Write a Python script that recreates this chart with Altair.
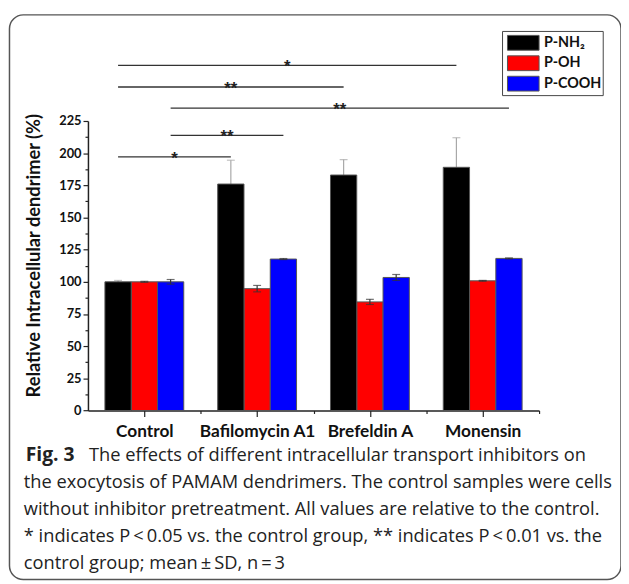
import altair as alt
import pandas as pd

# ---------------- data ----------------
categories = ["Control", "Bafilomycin A1", "Brefeldin A", "Monensin"]
series = ["P-NH₂", "P-OH", "P-COOH"]
colors = ["#000000", "#ff0000", "#0000ff"]

mean_nh2 = [100, 176, 183, 189]
mean_oh = [100, 94.7, 84.4, 100.8]
mean_cooh = [100, 117.7, 103.4, 118.2]
sd_nh2 = [1.1, 18.5, 12.0, 23.0]
sd_oh = [0.4, 2.5, 2.0, 0.3]
sd_cooh = [1.8, 0.4, 2.3, 0.4]

# significance brackets
sig_cat1 = ["Control", "Control", "Control", "Control", "Control"]
sig_ser1 = ["P-NH₂", "P-NH₂", "P-COOH", "P-COOH", "P-NH₂"]
sig_cat2 = ["Monensin", "Brefeldin A", "Monensin", "Bafilomycin A1", "Bafilomycin A1"]
sig_ser2 = ["P-NH₂", "P-NH₂", "P-COOH", "P-COOH", "P-NH₂"]
sig_level = [268.3, 251.4, 235.0, 213.8, 197.1]
sig_label = ["*", "**", "**", "**", "*"]

caption_bold = "Fig. 3"
caption_lines = [
    "The effects of different intracellular transport inhibitors on",
    "the exocytosis of PAMAM dendrimers. The control samples were cells",
    "without inhibitor pretreatment. All values are relative to the control.",
    "* indicates P\u2009<\u20090.05 vs. the control group, ** indicates P\u2009<\u20090.01 vs. the",
    "control group; mean\u2009±\u2009SD, n\u2009=\u20093",
]

# ---------------- tables ----------------
BAR = 0.233  # bar width as a fraction of a category slot


def pos(cat, ser):
    return categories.index(cat) + 0.5 + (series.index(ser) - 1) * BAR


means = [mean_nh2, mean_oh, mean_cooh]
sds = [sd_nh2, sd_oh, sd_cooh]
rows = []
for si, s in enumerate(series):
    for ci, c in enumerate(categories):
        xc = pos(c, s)
        m = means[si][ci]
        sd = sds[si][ci]
        rows.append(dict(cat=c, series=s, xc=xc, x1=xc - BAR / 2, x2=xc + BAR / 2,
                         mean=m, lo=m - sd, hi=m + sd))
df = pd.DataFrame(rows)

sig = pd.DataFrame(dict(
    xa=[pos(c, s) for c, s in zip(sig_cat1, sig_ser1)],
    xb=[pos(c, s) for c, s in zip(sig_cat2, sig_ser2)],
    level=sig_level,
    label=sig_label,
))
sig["xm"] = (sig["xa"] + sig["xb"]) / 2

xscale = alt.Scale(domain=[0, len(categories)], nice=False, zero=False)
yscale = alt.Scale(domain=[0, 225], nice=False)

x_vals = [i * 0.5 for i in range(1, 2 * len(categories) + 1)]
x_label_expr = ("datum.value % 1 == 0.5 ? " + str(categories) + "[floor(datum.value)] : ''")
y_vals = [i * 12.5 for i in range(0, 19)]

FONT = "Lato"

x_axis = alt.Axis(
    values=x_vals, labelExpr=x_label_expr, grid=False, title=None,
    domainColor="#222", domainWidth=1.5, tickColor="#222", tickWidth=1.2,
    tickSize={"condition": {"test": "datum.value % 1 == 0.5", "value": 6}, "value": 3},
    labelFont=FONT, labelFontWeight="bold", labelFontSize=17.5, labelColor="#111",
    labelPadding=6, labelAngle=0, labelFlush=False, labelOverlap=False,
)
y_axis = alt.Axis(
    values=y_vals, grid=False,
    labelExpr="datum.value % 25 == 0 ? datum.label : ''",
    title="Relative Intracellular dendrimer (%)",
    titleFont=FONT, titleFontWeight="bold", titleFontSize=18.5, titleColor="#111",
    titleX=-45, titleY=136,
    domainColor="#222", domainWidth=1.5, tickColor="#222", tickWidth=1.2,
    tickSize={"condition": {"test": "datum.value % 25 == 0", "value": 5}, "value": 3},
    labelFont=FONT, labelFontWeight="bold", labelFontSize=13, labelColor="#111",
    labelPadding=2, labelOverlap=False, labelFlush=False,
)


def X(field):
    return alt.X(field, scale=xscale, axis=x_axis)


def Y(field):
    return alt.Y(field, scale=yscale, axis=y_axis)


fill = alt.Fill("series:N", scale=alt.Scale(domain=series, range=colors),
                sort=series, legend=None)

base = alt.Chart(df)

bars_rb = base.transform_filter(alt.datum.series != series[0]).mark_rect(
    stroke="#555", strokeWidth=1).encode(
    x=X("x1:Q"), x2="x2:Q", y=Y("mean:Q"), y2=alt.datum(0), fill=fill,
)
bars_k = base.transform_filter(alt.datum.series == series[0]).mark_rect(
    stroke="#555", strokeWidth=1).encode(
    x=X("x1:Q"), x2="x2:Q", y=Y("mean:Q"), y2=alt.datum(0), fill=fill,
)

err_color = alt.condition(alt.datum.series == series[0], alt.value("#a8a8a8"), alt.value("#333333"))

err_rule = base.mark_rule(strokeWidth=1.2).encode(
    x=X("xc:Q"), y=Y("lo:Q"), y2="hi:Q", color=err_color,
)
cap_hi = base.mark_tick(orient="horizontal", size=8, thickness=1.2).encode(
    x=X("xc:Q"), y=Y("hi:Q"), color=err_color,
)
cap_lo = base.mark_tick(orient="horizontal", size=8, thickness=1.2).encode(
    x=X("xc:Q"), y=Y("lo:Q"), color=err_color,
)

sig_base = alt.Chart(sig)
sig_lines = sig_base.mark_rule(color="#333", strokeWidth=1.3).encode(
    x=X("xa:Q"), x2="xb:Q", y=Y("level:Q"),
)
sig_text = sig_base.mark_text(font="Liberation Sans", fontSize=17, fontWeight="bold",
                              color="#222", baseline="alphabetic", dy=7).encode(
    x=X("xm:Q"), y=Y("level:Q"), text="label:N",
)

# ---------------- legend (drawn box) ----------------
LG_X, LG_Y, LG_W, LG_H = 420, -90.7, 102, 65
row_y = [-79.2, -58.5, -37.8]
legend_layers = [
    alt.Chart(pd.DataFrame({"k": [0]})).mark_rect(
        fill="white", stroke="#444", strokeWidth=1).encode(
        x=alt.value(LG_X), x2=alt.value(LG_X + LG_W),
        y=alt.value(LG_Y), y2=alt.value(LG_Y + LG_H))
]
for i, (s, c) in enumerate(zip(series, colors)):
    one = alt.Chart(pd.DataFrame({"series": [s]}))
    legend_layers.append(one.mark_rect(fill=c, stroke="#555", strokeWidth=1).encode(
        x=alt.value(LG_X + 5), x2=alt.value(LG_X + 37),
        y=alt.value(row_y[i] - 7.5), y2=alt.value(row_y[i] + 7.5)))
    legend_layers.append(one.mark_text(font=FONT, fontSize=14.5, fontWeight="bold",
                                       color="#111", align="left", baseline="middle").encode(
        text="series:N", x=alt.value(LG_X + 42), y=alt.value(row_y[i])))

frame = alt.Chart(pd.DataFrame({"k": [0]})).mark_rect(
    fillOpacity=0, stroke="#555", strokeWidth=1.5, cornerRadius=14).encode(
    x=alt.value(-79.5), x2=alt.value(540), y=alt.value(-107.5), y2=alt.value(464.5))

CAP_FONT = "Open Sans"
CAP_SIZE = 18.5
cap_y = [338, 365.5, 393, 420.3, 447.5]
cap_x = -65
cap_layers = [
    alt.Chart(pd.DataFrame({"t": [caption_bold]})).mark_text(
        font=CAP_FONT, fontSize=19.5, fontWeight="bold", align="left",
        baseline="middle", color="#222").encode(
        text="t:N", x=alt.value(cap_x + 2), y=alt.value(cap_y[0]))
]
for i, line in enumerate(caption_lines):
    cap_layers.append(
        alt.Chart(pd.DataFrame({"t": [line]})).mark_text(
            font=CAP_FONT, fontSize=CAP_SIZE, align="left",
            baseline="middle", color="#222").encode(
            text="t:N", x=alt.value(cap_x + (66 if i == 0 else 0)), y=alt.value(cap_y[i]))
    )

chart = alt.layer(
    bars_rb, err_rule, cap_lo, cap_hi, bars_k, sig_lines, sig_text,
    *legend_layers, frame, *cap_layers
).properties(
    width=457, height=293.3,
    autosize=alt.AutoSizeParams(type="none"),
    padding={"left": 81, "top": 110.7, "right": 83, "bottom": 172},
).configure_view(strokeWidth=0).configure_axis(labelOverlap=False)

chart.save("out.html", embed_options={"renderer": "svg", "actions": False})
